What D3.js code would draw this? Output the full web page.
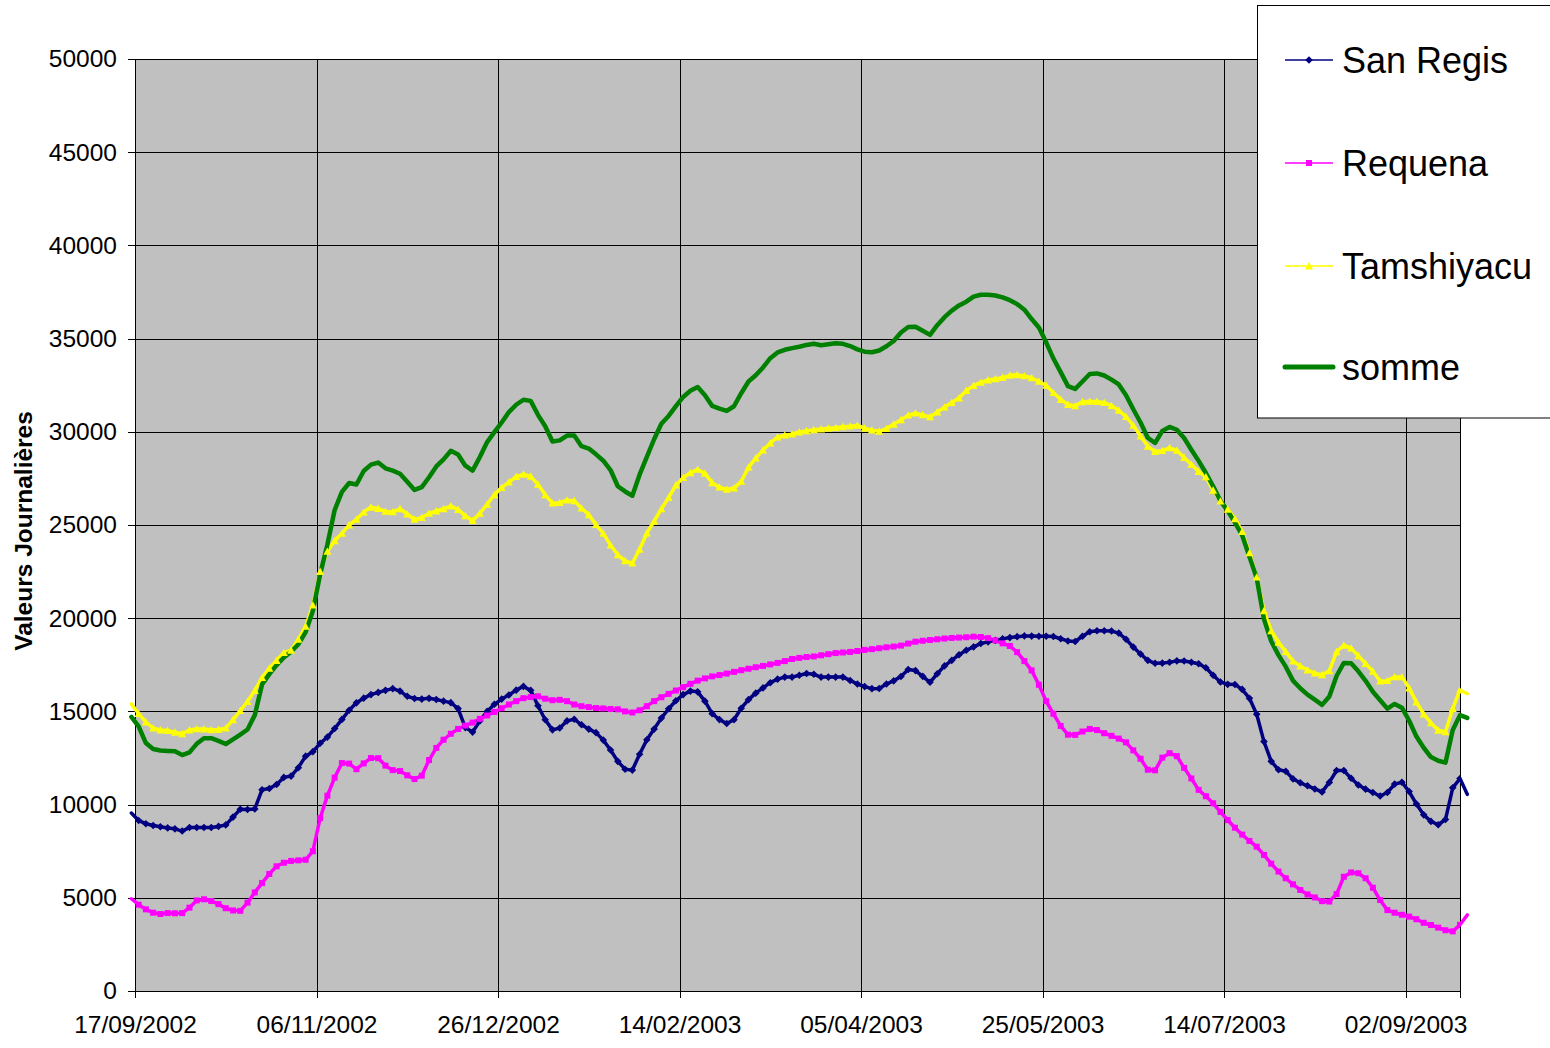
<!DOCTYPE html>
<html>
<head>
<meta charset="utf-8">
<script src="https://cdn.jsdelivr.net/npm/d3@7"></script>
<style>
  body { margin: 0; background: #ffffff; }
  svg { display: block; font-family: "Liberation Sans", Arial, sans-serif; }
</style>
</head>
<body>
<svg id="chart" width="1550" height="1048"></svg>
<script>
// ---------------- DATA ----------------
// one value every 2 days, first value on 16/09/2002
const startDate = "16/09/2002";
const stepDays = 2;

const xTickLabels = ["17/09/2002","06/11/2002","26/12/2002","14/02/2003","05/04/2003","25/05/2003","14/07/2003","02/09/2003"];
const xDomainLabels = ["17/09/2002","17/09/2003"];
const yTicks = [0,5000,10000,15000,20000,25000,30000,35000,40000,45000,50000];
const seriesNames = ["San Regis","Requena","Tamshiyacu","somme"];
const yTitle = "Valeurs Journalières";

const sanRegis = [
  9550,9150,8970,8880,8810,8750,8700,8580,8770,8770,
  8770,8770,8830,8910,9330,9750,9740,9770,10800,10860,
  11080,11460,11530,11980,12600,12840,13290,13620,14080,14570,
  15060,15460,15710,15900,16020,16130,16220,16090,15810,15690,
  15660,15700,15640,15550,15470,15150,14130,13890,14490,15000,
  15380,15660,15880,16140,16340,16130,15300,14550,14010,14110,
  14490,14580,14280,14050,13860,13460,12930,12320,11900,11850,
  12700,13480,14050,14640,15140,15570,15900,16090,16050,15550,
  14880,14560,14350,14550,15170,15630,15980,16260,16540,16730,
  16840,16840,16940,17030,16990,16840,16840,16840,16840,16660,
  16470,16330,16220,16230,16470,16640,16870,17250,17190,16880,
  16560,17020,17440,17740,18040,18280,18460,18640,18730,18810,
  18890,18960,19010,19050,19040,19030,19030,19020,18900,18780,
  18750,19030,19270,19330,19330,19310,19200,18870,18450,18080,
  17740,17580,17590,17640,17710,17700,17640,17560,17340,16940,
  16580,16450,16440,16180,15700,14850,13380,12320,11870,11790,
  11380,11170,11010,10840,10680,11190,11830,11830,11410,11050,
  10830,10650,10460,10650,11100,11200,10700,10030,9450,9100,
  8920,9200,10900,11400,10550
];

const requena = [
  4950,4630,4380,4200,4130,4180,4170,4180,4470,4860,
  4920,4830,4660,4440,4320,4300,4740,5290,5790,6280,
  6690,6880,6980,7010,7040,7500,9270,10480,11450,12230,
  12200,11900,12210,12500,12490,12090,11850,11800,11570,11370,
  11550,12390,13040,13480,13800,14060,14240,14400,14600,14780,
  14970,15170,15370,15550,15710,15770,15810,15680,15600,15620,
  15550,15370,15280,15230,15180,15160,15130,15110,15000,14940,
  15060,15280,15550,15760,15940,16120,16300,16480,16650,16770,
  16880,16950,17030,17120,17210,17290,17370,17440,17520,17600,
  17700,17810,17870,17920,17950,18010,18070,18130,18160,18190,
  18240,18300,18340,18390,18440,18480,18530,18640,18740,18790,
  18830,18870,18910,18940,18960,18980,19010,18990,18930,18810,
  18650,18510,18180,17700,17200,16430,15550,14870,14220,13750,
  13740,13920,14060,14000,13830,13690,13540,13340,12910,12460,
  11870,11840,12520,12760,12600,11970,11400,10790,10450,10070,
  9610,9170,8760,8390,8050,7740,7300,6830,6410,6050,
  5720,5420,5180,5020,4820,4800,5200,6130,6360,6320,
  6050,5540,4880,4340,4200,4090,3990,3850,3660,3540,
  3400,3260,3200,3550,4080
];

const tamshiyacu = [
  15400,14880,14430,14100,14000,13970,13880,13800,14000,14060,
  14050,14010,14030,14100,14550,15040,15530,16120,16810,17310,
  17730,18150,18280,18870,19560,20700,22500,23580,24150,24550,
  25000,25300,25690,25950,25880,25730,25700,25870,25590,25300,
  25400,25620,25750,25870,26020,25830,25490,25230,25630,26110,
  26620,27010,27300,27590,27720,27610,27180,26620,26170,26200,
  26330,26300,25900,25550,25020,24550,23920,23400,23080,22950,
  23700,24560,25200,25860,26470,27140,27540,27800,27980,27770,
  27260,27030,26910,26980,27340,28090,28590,29020,29390,29720,
  29820,29870,29990,30050,30110,30150,30190,30220,30270,30300,
  30340,30190,30090,30030,30170,30400,30640,30890,31000,30910,
  30800,31060,31320,31570,31810,32210,32480,32650,32780,32840,
  32910,33030,33060,33000,32900,32700,32490,32100,31730,31460,
  31390,31610,31630,31620,31560,31400,31150,30810,30340,29770,
  29220,28940,28990,29140,29000,28620,28250,27870,27580,26860,
  26280,25840,25330,24640,23500,22200,20400,19320,18710,18210,
  17700,17430,17220,17050,16960,17180,18200,18550,18390,17980,
  17570,17150,16620,16650,16850,16850,16250,15500,14850,14380,
  13990,13900,15150,16150,15950
];

const somme = [
  14700,14200,13300,12980,12900,12880,12860,12660,12800,13260,
  13560,13560,13420,13250,13500,13760,14030,14800,16450,17000,
  17480,17890,18200,18600,19250,20400,22350,23950,25800,26780,
  27250,27170,27900,28240,28350,28040,27920,27750,27320,26880,
  27030,27560,28140,28520,28980,28780,28180,27920,28650,29450,
  29980,30500,31060,31450,31720,31660,30910,30300,29480,29540,
  29800,29800,29230,29100,28790,28450,27950,27080,26800,26570,
  27700,28650,29600,30430,30850,31380,31870,32200,32400,31960,
  31390,31240,31120,31370,32070,32700,33030,33450,33950,34260,
  34400,34490,34560,34660,34720,34640,34700,34750,34720,34600,
  34420,34300,34270,34360,34590,34870,35330,35620,35640,35420,
  35200,35720,36150,36500,36780,36980,37250,37350,37350,37310,
  37210,37060,36850,36550,36050,35600,34800,33930,33200,32450,
  32300,32700,33100,33130,33020,32800,32540,31960,31210,30500,
  29680,29400,30050,30260,30110,29670,29040,28440,27790,27080,
  26300,25760,25130,24450,23300,22150,19950,18760,18020,17400,
  16650,16240,15900,15630,15350,15800,16900,17600,17580,17150,
  16640,16050,15600,15150,15400,15200,14500,13650,13050,12550,
  12350,12250,14000,14800,14650
];

// ---------------- CHART ----------------
const svg = d3.select("#chart");
const plot = { left: 135, right: 1460, top: 59, bottom: 991 };
const parse = d3.utcParse("%d/%m/%Y");

const start = parse(startDate);
const dates = sanRegis.map((_, i) => d3.utcDay.offset(start, i * stepDays));

const x = d3.scaleUtc()
  .domain(xDomainLabels.map(parse))
  .range([plot.left, plot.right]);
const y = d3.scaleLinear()
  .domain([0, 50000])
  .range([plot.bottom, plot.top]);

const xTickDates = xTickLabels.map(parse);

// plot background
svg.append("rect")
  .attr("x", plot.left).attr("y", plot.top)
  .attr("width", plot.right - plot.left).attr("height", plot.bottom - plot.top)
  .attr("fill", "#C0C0C0");

// gridlines
const gridY = svg.append("g")
  .attr("transform", `translate(${plot.left},0)`)
  .call(d3.axisLeft(y).tickValues(yTicks).tickSize(-(plot.right - plot.left)).tickFormat(""));
gridY.select(".domain").remove();
gridY.selectAll("line").attr("stroke", "#000").attr("shape-rendering", "crispEdges");

const gridX = svg.append("g")
  .attr("transform", `translate(0,${plot.bottom})`)
  .call(d3.axisBottom(x).tickValues(xTickDates).tickSize(-(plot.bottom - plot.top)).tickFormat(""));
gridX.select(".domain").remove();
gridX.selectAll("line").attr("stroke", "#000").attr("shape-rendering", "crispEdges");

// plot border
svg.append("rect")
  .attr("x", plot.left).attr("y", plot.top)
  .attr("width", plot.right - plot.left).attr("height", plot.bottom - plot.top)
  .attr("fill", "none").attr("stroke", "#000").attr("shape-rendering", "crispEdges");

// axes
const yAxis = svg.append("g")
  .attr("transform", `translate(${plot.left},0)`)
  .call(d3.axisLeft(y).tickValues(yTicks).tickSize(7).tickPadding(11).tickFormat(d3.format("d")));
yAxis.selectAll("line, path").attr("stroke", "#000").attr("shape-rendering", "crispEdges");
yAxis.selectAll("text").attr("font-size", "24.5px").attr("fill", "#000")
  .attr("font-family", "'Liberation Sans', Arial, sans-serif");

const xAxis = svg.append("g")
  .attr("transform", `translate(0,${plot.bottom})`)
  .call(d3.axisBottom(x).tickValues(xTickDates).tickSize(7).tickPadding(18)
    .tickFormat((d, i) => xTickLabels[i]));
xAxis.selectAll("line, path").attr("stroke", "#000").attr("shape-rendering", "crispEdges");
xAxis.selectAll("text").attr("font-size", "24.5px").attr("fill", "#000")
  .attr("font-family", "'Liberation Sans', Arial, sans-serif");

// y title
svg.append("text")
  .attr("transform", "translate(23,531) rotate(-90)")
  .attr("text-anchor", "middle")
  .attr("dominant-baseline", "central")
  .attr("font-size", "24.5px")
  .attr("font-weight", "bold")
  .attr("fill", "#000")
  .text(yTitle);

// series
const series = [
  { name: seriesNames[0], values: sanRegis,   color: "#000080", width: 3.5, marker: "diamond" },
  { name: seriesNames[1], values: requena,    color: "#FF00FF", width: 3.5, marker: "square" },
  { name: seriesNames[2], values: tamshiyacu, color: "#FFFF00", width: 3.5, marker: "triangle" },
  { name: seriesNames[3], values: somme,      color: "#008000", width: 4.5, marker: null }
];

const markerPath = {
  diamond: "M0,-3.8L3.8,0L0,3.8L-3.8,0Z",
  square: "M-3,-3H3V3H-3Z",
  triangle: "M0,-4L4,3.4L-4,3.4Z"
};

svg.append("defs").append("clipPath").attr("id", "plotClip")
  .append("rect")
  .attr("x", plot.left).attr("y", plot.top)
  .attr("width", plot.right - plot.left).attr("height", plot.bottom - plot.top);

const line = d3.line()
  .x((d, i) => x(dates[i]))
  .y(d => y(d));

const linesG = svg.append("g");
series.forEach(s => {
  linesG.append("path")
    .datum(s.values)
    .attr("d", line)
    .attr("fill", "none")
    .attr("stroke", s.color)
    .attr("stroke-width", s.width)
    .attr("stroke-linejoin", "round")
    .attr("stroke-linecap", "round");
});

const markersG = svg.append("g").attr("clip-path", "url(#plotClip)");
series.forEach(s => {
  if (!s.marker) return;
  markersG.append("g").selectAll("path")
    .data(s.values)
    .join("path")
    .attr("d", markerPath[s.marker])
    .attr("transform", (d, i) => `translate(${x(dates[i])},${y(d)})`)
    .attr("fill", s.color);
});

// legend
const legend = svg.append("g");
legend.append("rect")
  .attr("x", 1257.5).attr("y", 5.5)
  .attr("width", 400).attr("height", 412.5)
  .attr("fill", "#fff").attr("stroke", "#000");
const legendY = [60, 163, 266, 367];
series.forEach((s, i) => {
  const ly = legendY[i];
  legend.append("line")
    .attr("x1", 1285).attr("x2", 1333)
    .attr("y1", ly).attr("y2", ly)
    .attr("stroke", s.color)
    .attr("stroke-width", s.marker ? 1.5 : 5)
    .attr("stroke-linecap", s.marker ? "butt" : "round");
  if (s.marker) {
    legend.append("path")
      .attr("d", markerPath[s.marker])
      .attr("transform", `translate(1309,${ly})`)
      .attr("fill", s.color);
  }
  legend.append("text")
    .attr("x", 1342).attr("y", ly)
    .attr("dy", "0.35em")
    .attr("font-size", "36px")
    .attr("fill", "#000")
    .text(s.name);
});
</script>
</body>
</html>
